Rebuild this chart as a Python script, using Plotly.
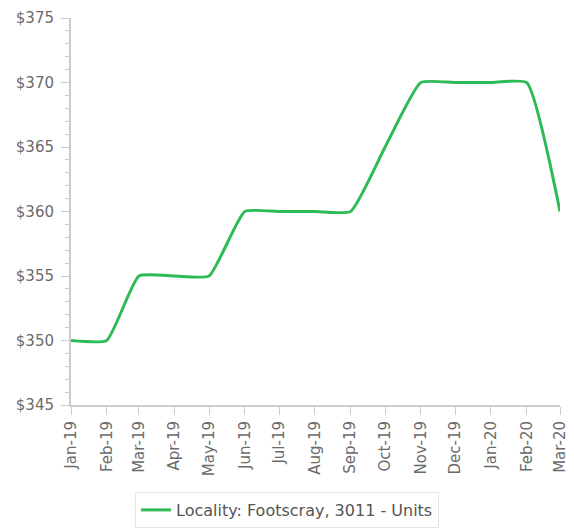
import plotly.graph_objects as go

months = ["2019-01-01", "2019-02-01", "2019-03-01", "2019-04-01", "2019-05-01",
          "2019-06-01", "2019-07-01", "2019-08-01", "2019-09-01", "2019-10-01",
          "2019-11-01", "2019-12-01", "2020-01-01", "2020-02-01", "2020-03-01"]
rent = [350, 350, 355, 355, 355, 360, 360, 360, 360, 365, 370, 370, 370, 370, 360]
series_name = "Locality: Footscray, 3011 - Units"

fig = go.Figure()
fig.add_trace(go.Scatter(
    x=months, y=rent, mode="lines", name=series_name,
    line=dict(color="#2dbb55", width=3, shape="spline", smoothing=0.45),
))

W, H = 566, 522
fig.update_layout(
    width=W, height=H,
    margin=dict(l=63, r=14, t=10, b=125, autoexpand=False),
    plot_bgcolor="white", paper_bgcolor="white",
    font=dict(family="DejaVu Sans", size=15, color="#6b6b6b"),
    showlegend=True,
    legend=dict(orientation="h", xref="container", x=279 / W, xanchor="center",
                yref="container", y=(H - 484) / H, yanchor="top",
                bordercolor="#e6e6e6", borderwidth=1,
                font=dict(family="DejaVu Sans", size=16, color="#555555")),
    xaxis=dict(
        type="date", range=["2019-01-01", "2020-03-01"],
        dtick="M1", tick0="2019-01-01", tickformat="%b-%y", tickangle=-90,
        showgrid=False, showline=True, linecolor="#cccccc", linewidth=2,
        ticks="outside", ticklen=8, tickcolor="#cccccc", tickwidth=1,
        zeroline=False, automargin=False,
    ),
    yaxis=dict(
        range=[345, 375], dtick=5, tickprefix="$",
        showgrid=False, showline=True, linecolor="#cccccc", linewidth=2,
        ticks="outside", ticklen=8, tickcolor="#cccccc", ticklabelstandoff=4,
        minor=dict(dtick=1, ticks="outside", ticklen=4, tickcolor="#cccccc"),
        zeroline=False, automargin=False,
    ),
)

fig.write_html("out.html")
